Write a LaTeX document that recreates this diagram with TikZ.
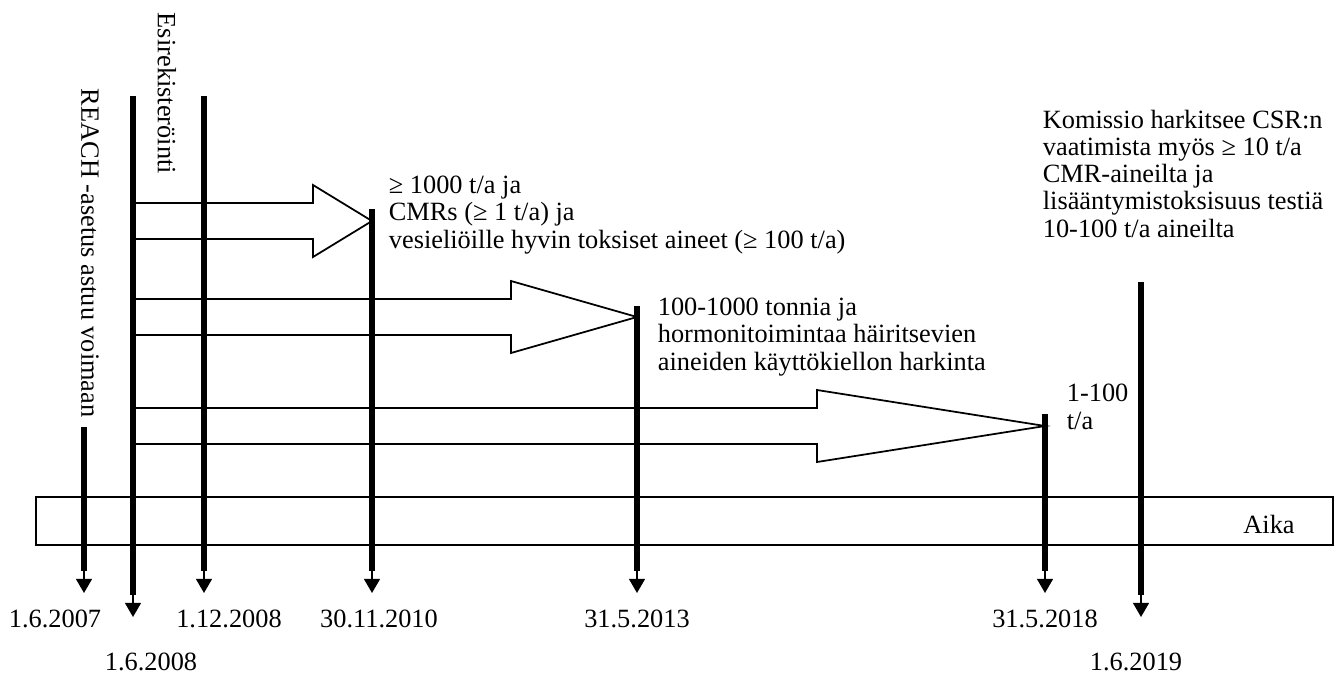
\documentclass[tikz,border=0pt]{standalone}
\usepackage{fontspec}
\setmainfont{Liberation Serif}
\usetikzlibrary{arrows.meta}

\tikzset{
    paksu/.style={line width=3.4pt,shorten >=12.5pt},
    karki/.style={line width=1pt,-{Triangle[width=9pt,length=8pt]}},
    selite/.style={anchor=base west,align=left,inner sep=0pt},
    pysty/.style={rotate=-90,anchor=west,inner sep=0pt},
}

\begin{document}
\begin{tikzpicture}[x=0.02cm,y=-0.02cm,line width=1pt,
        font=\fontsize{15}{15.4}\selectfont]
        \useasboundingbox (0,0) rectangle (1335,676);

        % aika-akseli
        \draw (36,497) rectangle (1333,545);
        \node[anchor=base] (aika) at (1269,533) {Aika};

        % pystyviivat ja nuolet
        \foreach \n/\x/\y/\z in {
        reach/84/427/593, esirek/133/96/617, rek/204/96/593,
        tuhat/372/209/593, sata/637/306/593, yksi/1045/414/593,
        csr/1141/282/617} {
        \coordinate (\n-a) at (\x,\y);
        \coordinate (\n-b) at (\x,\z);
        \draw[paksu] (\n-a) -- (\n-b);
        \draw[karki] ([yshift=14pt]\n-b) -- (\n-b);
        }

        % paivamaarat
        \foreach \n/\x/\y/\t in {
        reach/55/627/1.6.2007, esirek/151/670/1.6.2008,
        rek/229/627/1.12.2008, tuhat/379/627/30.11.2010,
        sata/637/627/31.5.2013, yksi/1045/627/31.5.2018,
        csr/1136/670/1.6.2019}
        \node[anchor=base,inner sep=0pt] (pvm-\n) at (\x,\y) {\t};

        % isot nuolet
        \foreach \n/\y/\x in {tuhat/221/313, sata/317/511, yksi/426/817}
        \draw (esirek-a|-0,\y-18) -- (\x,\y-18) -- (\x,\y-36)
            -- (\n-a|-0,\y) -- (\x,\y+36) -- (\x,\y+18)
            -- (esirek-a|-0,\y+18);

        \node[pysty] (reach-teksti) at (90,88) {REACH -asetus astuu voimaan};
        \node[pysty] (esirek-teksti) at (167,12) {Esirekisteröinti};

        % selitteet, ankkurina viimeisen rivin perusviiva
        \node[selite] (tuhat-teksti) at (388,248) {≥ 1000 t/a ja\\
            CMRs (≥ 1 t/a) ja\\
            vesieliöille hyvin toksiset aineet (≥ 100 t/a)};
        \node[selite] (sata-teksti) at (657,370) {100-1000 tonnia ja\\
            hormonitoimintaa häiritsevien\\
            aineiden käyttökiellon harkinta};
        \node[selite] (yksi-teksti) at (1066,429) {1-100\\ t/a};
        \node[selite] (csr-teksti) at (1042,237) {Komissio harkitsee CSR:n\\
            vaatimista myös ≥ 10 t/a\\
            CMR-aineilta ja\\
            lisääntymistoksisuus testiä\\
            10-100 t/a aineilta};
    \end{tikzpicture}
\end{document}
